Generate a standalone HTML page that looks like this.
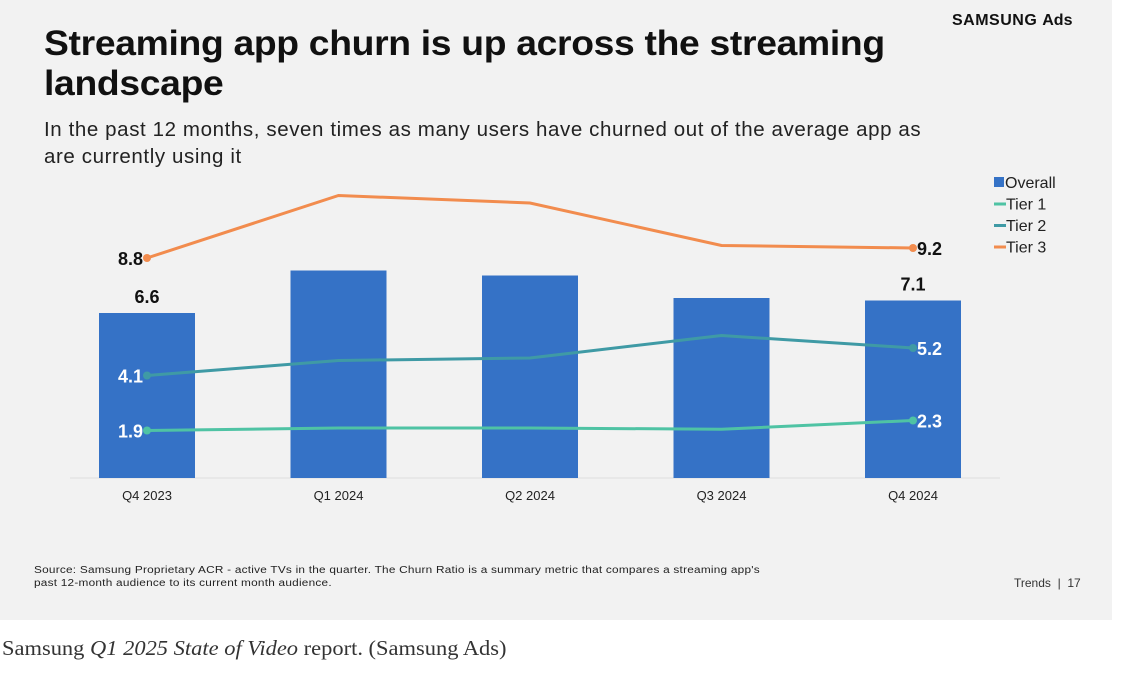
<!DOCTYPE html>
<html><head><meta charset="utf-8"><style>
body{margin:0;width:1124px;height:673px;background:#fff;overflow:hidden;font-family:"Liberation Sans",sans-serif}
#slide{position:absolute;left:0;top:0;width:1112px;height:620px;background:#f2f2f2}
.t{position:absolute;color:#111}
</style></head><body>
<div id="slide"></div>
<div class="t" style="left:952px;top:12px;font-size:16px;font-weight:bold;letter-spacing:0.5px">SAMSUNG <span style="font-weight:bold;letter-spacing:0">Ads</span></div>
<div class="t" style="left:44px;top:24px;font-size:35px;font-weight:bold;line-height:40px;width:830px;letter-spacing:-0.3px;transform:scaleX(1.065);transform-origin:left top">Streaming app churn is up across the streaming landscape</div>
<div class="t" style="left:44px;top:116px;font-size:20.5px;line-height:27px;width:900px;color:#222;letter-spacing:0.6px">In the past 12 months, seven times as many users have churned out of the average app as are currently using it</div>
<svg id="chart" width="1124" height="620" style="position:absolute;left:0;top:0"></svg>
<div class="t" style="left:34px;top:564px;font-size:10px;line-height:13px;color:#222;letter-spacing:0.2px;transform:scaleX(1.18);transform-origin:left top">Source: Samsung Proprietary ACR - active TVs in the quarter. The Churn Ratio is a summary metric that compares a streaming app's<br>past 12-month audience to its current month audience.</div>
<div class="t" style="left:1014px;top:576px;font-size:12px;color:#333">Trends &nbsp;|&nbsp; 17</div>
<div class="t" style="left:2px;top:636px;font-family:'Liberation Serif',serif;font-size:21px;color:#333;transform:scaleX(1.07);transform-origin:left top">Samsung <i>Q1 2025 State of Video</i> report. (Samsung Ads)</div>
<script>
const categories=["Q4 2023","Q1 2024","Q2 2024","Q3 2024","Q4 2024"];
const overall=[6.6,8.3,8.1,7.2,7.1];
const tier1=[1.9,2.0,2.0,1.95,2.3];
const tier2=[4.1,4.7,4.8,5.7,5.2];
const tier3=[8.8,11.3,11.0,9.3,9.2];
const NS="http://www.w3.org/2000/svg";
const svg=document.getElementById('chart');
const x=i=>147+i*191.5;
const y=v=>478-v*25;
function mk(t,a){const e=document.createElementNS(NS,t);for(const k in a)e.setAttribute(k,a[k]);svg.appendChild(e);return e;}
const base=mk('line',{x1:70,x2:1000,y1:478,y2:478,stroke:'#ddd'});


overall.forEach((v,i)=>{const r=mk('rect',{x:x(i)-48,y:y(v),width:96,height:478-y(v),fill:'#3572c6'});


const l=mk('text',{x:x(i),y:500,'text-anchor':'middle','font-size':13,fill:'#222'});l.textContent=categories[i];

});
function line(vals,col,name){const p=mk('polyline',{points:vals.map((v,i)=>x(i)+','+y(v)).join(' '),fill:'none',stroke:col,'stroke-width':3});


[0,vals.length-1].forEach(i=>{const c=mk('circle',{cx:x(i),cy:y(vals[i]),r:4,fill:col});

});}
line(tier1,'#4fc3a4','tier1');line(tier2,'#3f9aa5','tier2');line(tier3,'#f28c4e','tier3');
function lab(t,xx,yy,anchor,col){const e=mk('text',{x:xx,y:yy,'text-anchor':anchor,'font-size':18,'font-weight':'bold',fill:col});e.textContent=t;

}
const n=overall.length-1;
lab(overall[0].toFixed(1),x(0),y(overall[0])-10,'middle','#111');
lab(overall[n].toFixed(1),x(n),y(overall[n])-10,'middle','#111');
lab(tier3[0].toFixed(1),x(0)-4,y(tier3[0])+7,'end','#111');
lab(tier3[n].toFixed(1),x(n)+4,y(tier3[n])+7,'start','#111');
lab(tier2[0].toFixed(1),x(0)-4,y(tier2[0])+7,'end','#fff');
lab(tier2[n].toFixed(1),x(n)+4,y(tier2[n])+7,'start','#fff');
lab(tier1[0].toFixed(1),x(0)-4,y(tier1[0])+7,'end','#fff');
lab(tier1[n].toFixed(1),x(n)+4,y(tier1[n])+7,'start','#fff');
const leg=[["Overall","#3572c6",1],["Tier 1","#4fc3a4",0],["Tier 2","#3f9aa5",0],["Tier 3","#f28c4e",0]];
leg.forEach((d,i)=>{const yy=182+i*21.5;
const m=d[2]?mk('rect',{x:994,y:yy-5,width:10,height:10,fill:d[1]}):mk('rect',{x:994,y:yy-1,width:12,height:3,fill:d[1]});


const t=mk('text',{x:d[2]?1005:1006,y:yy+6,'font-size':16,fill:'#222'});t.textContent=d[0];

});
</script>
</body></html>
